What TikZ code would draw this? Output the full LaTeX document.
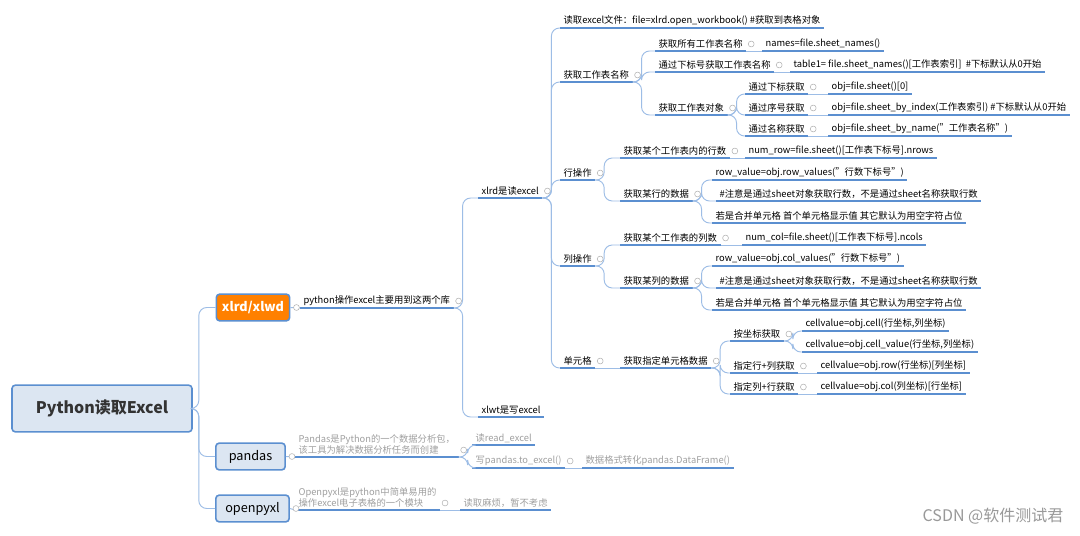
\documentclass[tikz,border=0pt]{standalone}
\usepackage{fontspec}
\setmainfont{Noto Sans CJK SC}
\usetikzlibrary{calc}
\definecolor{ln}{HTML}{5B8FD0}
\definecolor{lc}{HTML}{9DBDE6}
\definecolor{gt}{HTML}{A0A0A0}
\definecolor{bx}{HTML}{DCE6F2}
\tikzset{
 mnode/.style={anchor=south west,inner xsep=2.5pt,inner ysep=1.8pt,font=\fontsize{7}{8}\selectfont},
 uline/.style={draw=ln,line width=1.3pt},
 conn/.style={draw=lc,line width=0.7pt,rounded corners=6pt},
 cbox/.style={draw=ln,line width=1.2pt,rounded corners=2.5pt,fill=bx},
 coll/.style={draw=gray!60,line width=0.4pt,fill=white},
}
\newcommand\mn[4]{\node[mnode] (#1) at (#2,#3) {#4}; \draw[uline] (#1.south west) -- (#1.south east);}
\newcommand\gn[4]{\node[mnode,text=gt,align=left] (#1) at (#2,#3) {#4}; \draw[uline] (#1.south west) -- (#1.south east);}
\newcommand\cn[2]{\draw[conn] (#1.south east) -- ++(9,0) |- (#2.south west);}
\newcommand\vn[2]{\draw[conn] (#1.south east) -- (#2.south west); \draw[coll] ($(#1.south east)+(5,-7)$) circle (2.2pt);}
\newcommand\cc[1]{\draw[coll] ($(#1.south east)+(5,-7)$) circle (2.2pt);}
\begin{document}
\begin{tikzpicture}[x=0.75pt,y=-0.75pt]
\useasboundingbox[fill=white] (0,0) rectangle (1080,535);
% boxes
\node[cbox,minimum width=135pt,minimum height=35pt,font=\bfseries\fontsize{12}{14}\selectfont,text=black!80] (root) at (102,408.5) {Python读取Excel};
\node[cbox,fill={rgb,255:red,255;green,128;blue,0},minimum width=55pt,minimum height=20pt,font=\bfseries\fontsize{9.5}{11}\selectfont,text=white] (xl) at (253,307.5) {xlrd/xlwd};
\node[cbox,minimum width=52pt,minimum height=20pt,font=\fontsize{9.5}{11}\selectfont] (pd) at (250.5,456.5) {pandas};
\node[cbox,minimum width=55pt,minimum height=20pt,font=\fontsize{9.5}{11}\selectfont] (op) at (252.5,508.5) {openpyxl};
\draw[conn] (root.east) -- ++(6,0) |- (xl.west);
\draw[conn] (root.east) -- ++(6,0) |- (pd.west);
\draw[conn] (root.east) -- ++(6,0) |- (op.west);
% level 2
\mn{n1}{300}{308}{python操作excel主要用到这两个库}
\draw[conn] (xl.east) -- (n1.south west); \draw[coll] ($(xl.east)+(6,0)$) circle (2.2pt);
\mn{xr}{478}{198}{xlrd是读excel}
\mn{xw}{478}{417}{xlwt是写excel}
\cc{n1}\cn{n1}{xr}\cn{n1}{xw}
\mn{r1}{560}{28}{读取excel文件：file=xlrd.open\_workbook() \#获取到表格对象}
\mn{g}{560}{82}{获取工作表名称}
\mn{hr}{560}{180}{行操作}
\mn{lc}{560}{266}{列操作}
\mn{dy}{560}{368}{单元格}
\cc{xr}\cn{xr}{r1}\cn{xr}{g}\cn{xr}{hr}\cn{xr}{lc}\cn{xr}{dy}
% sheet names
\mn{g1}{655}{51}{获取所有工作表名称}
\mn{g1v}{762}{51}{names=file.sheet\_names()}
\mn{g2}{655}{72}{通过下标号获取工作表名称}
\mn{g2v}{790}{72}{table1=\ file.sheet\_names()[工作表索引]\ \ \#下标默认从0开始}
\mn{g3}{655}{115}{获取工作表对象}
\cc{g}\cn{g}{g1}\cn{g}{g2}\cn{g}{g3}
\vn{g1}{g1v}\vn{g2}{g2v}
\mn{g31}{745}{94}{通过下标获取}
\mn{g31v}{828}{94}{obj=file.sheet()[0]}
\mn{g32}{745}{115}{通过序号获取}
\mn{g32v}{828}{115}{obj=file.sheet\_by\_index(工作表索引) \#下标默认从0开始}
\mn{g33}{745}{136}{通过名称获取}
\mn{g33v}{828}{136}{obj=file.sheet\_by\_name("工作表名称")}
\cc{g3}\cn{g3}{g31}\cn{g3}{g32}\cn{g3}{g33}
\vn{g31}{g31v}\vn{g32}{g32v}\vn{g33}{g33v}
% rows
\mn{h1}{620}{158}{获取某个工作表内的行数}
\mn{h1v}{745}{158}{num\_row=file.sheet()[工作表下标号].nrows}
\mn{h2}{620}{201}{获取某行的数据}
\cc{hr}\cn{hr}{h1}\cn{hr}{h2}\vn{h1}{h1v}
\mn{h21}{712}{180}{row\_value=obj.row\_values("行数下标号")}
\mn{h22}{716}{201}{\#注意是通过sheet对象获取行数，不是通过sheet名称获取行数}
\mn{h23}{712}{223}{若是合并单元格 首个单元格显示值 其它默认为用空字符占位}
\cc{h2}\cn{h2}{h21}\cn{h2}{h22}\cn{h2}{h23}
% cols
\mn{l1}{620}{245}{获取某个工作表的列数}
\mn{l1v}{742}{245}{num\_col=file.sheet()[工作表下标号].ncols}
\mn{l2}{620}{288}{获取某列的数据}
\cc{lc}\cn{lc}{l1}\cn{lc}{l2}\vn{l1}{l1v}
\mn{l21}{712}{266}{row\_value=obj.col\_values("行数下标号")}
\mn{l22}{716}{288}{\#注意是通过sheet对象获取行数，不是通过sheet名称获取行数}
\mn{l23}{712}{310}{若是合并单元格 首个单元格显示值 其它默认为用空字符占位}
\cc{l2}\cn{l2}{l21}\cn{l2}{l22}\cn{l2}{l23}
% cells
\mn{d1}{620}{368}{获取指定单元格数据}
\vn{dy}{d1}
\mn{d11}{730}{341}{按坐标获取}
\mn{d111}{802}{331}{cellvalue=obj.cell(行坐标,列坐标)}
\mn{d112}{802}{352}{cellvalue=obj.cell\_value(行坐标,列坐标)}
\mn{d12}{730}{373}{指定行+列获取}
\mn{d12v}{817}{373}{cellvalue=obj.row(行坐标)[列坐标]}
\mn{d13}{730}{394}{指定列+行获取}
\mn{d13v}{817}{394}{cellvalue=obj.col(列坐标)[行坐标]}
\cc{d1}\cn{d1}{d11}\cn{d1}{d12}\cn{d1}{d13}
\cc{d11}\cn{d11}{d111}\cn{d11}{d112}
\vn{d12}{d12v}\vn{d13}{d13v}
% pandas
\gn{pt}{295}{457}{Pandas是Python的一个数据分析包，\\该工具为解决数据分析任务而创建}
\draw[conn] (pd.east) -- (pt.south west); \draw[coll] ($(pd.east)+(6,0)$) circle (2.2pt);
\gn{pd1}{472}{445}{读read\_excel}
\gn{pd2}{472}{468}{写pandas.to\_excel()}
\gn{pd2v}{582}{468}{数据格式转化pandas.DataFrame()}
\cc{pt}\cn{pt}{pd1}\cn{pt}{pd2}\vn{pd2}{pd2v}
% openpyxl
\gn{ot}{295}{510}{Openpyxl是python中简单易用的\\操作excel电子表格的一个模块}
\draw[conn] (op.east) -- (ot.south west); \draw[coll] ($(op.east)+(6,0)$) circle (2.2pt);
\gn{op1}{460}{510}{读取麻烦，暂不考虑}
\cc{ot}\draw[conn] (ot.south east) -- (op1.south west);
% watermark
\node[anchor=east,text=gray!80,font=\fontsize{12}{14}\selectfont] (wm) at (1068,516) {CSDN @软件测试君};
\end{tikzpicture}
\end{document}
